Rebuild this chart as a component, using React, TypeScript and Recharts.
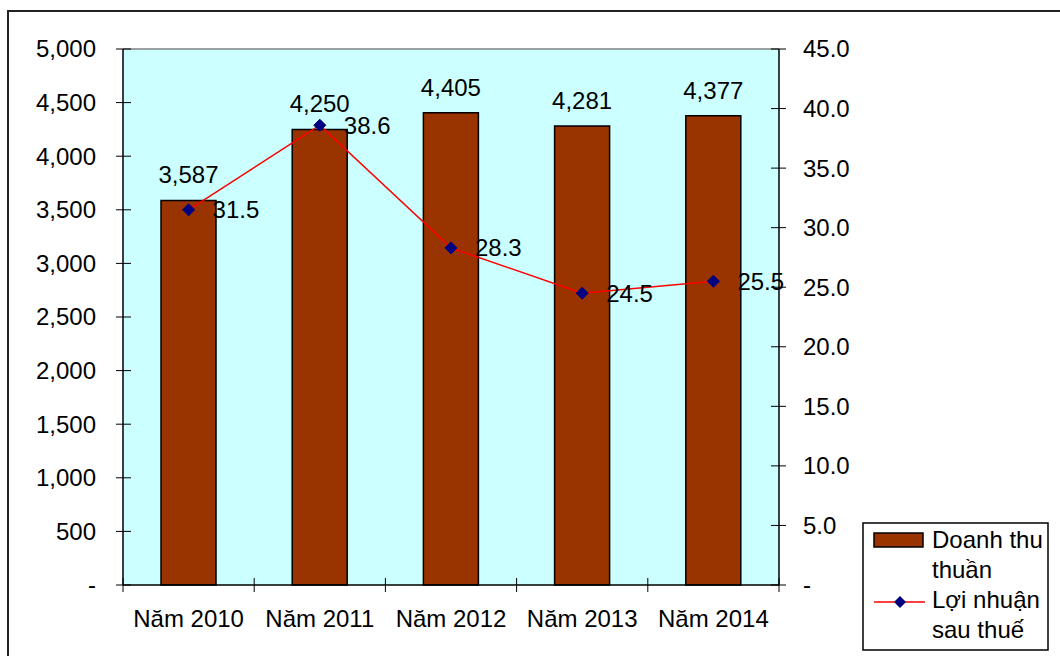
import React from "react";
import {
  ComposedChart,
  Bar,
  Line,
  XAxis,
  YAxis,
  CartesianGrid,
  LabelList,
  Legend,
  ReferenceLine,
} from "recharts";

// revenue (left axis) and after-tax profit (right axis), by year
const years = ["Năm 2010", "Năm 2011", "Năm 2012", "Năm 2013", "Năm 2014"];
const doanhThu = [3587, 4250, 4405, 4281, 4377];
const loiNhuan = [31.5, 38.6, 28.3, 24.5, 25.5];
const leftTicks = [0, 500, 1000, 1500, 2000, 2500, 3000, 3500, 4000, 4500, 5000];
const rightTicks = [0, 5, 10, 15, 20, 25, 30, 35, 40, 45];

const data = years.map((year, i) => ({
  year,
  doanhThu: doanhThu[i],
  loiNhuan: loiNhuan[i],
}));

const FONT = "'Liberation Sans', Arial, sans-serif";
const FS = 24;
const W = 1060;
const H = 656;
const PLOT_LEFT = 123;
const PLOT_RIGHT = 779;
const PLOT_TOP = 49;
const PLOT_BOTTOM = 585;
const BAND = (PLOT_RIGHT - PLOT_LEFT) / years.length;

const LeftTick = (props: any) => {
  const { y, payload } = props;
  const v = payload.value;
  return (
    <g>
      <line x1={PLOT_LEFT - 7} x2={PLOT_LEFT + 8} y1={y} y2={y} stroke="#000" strokeWidth={1} />
      <text x={PLOT_LEFT - 27} y={y} dy="0.35em" textAnchor="end" fontSize={FS} fontFamily={FONT} fill="#000">
        {v === 0 ? "-" : v.toLocaleString("en-US")}
      </text>
    </g>
  );
};

const RightTick = (props: any) => {
  const { y, payload } = props;
  const v = payload.value;
  return (
    <g>
      <line x1={PLOT_RIGHT - 8} x2={PLOT_RIGHT + 7} y1={y} y2={y} stroke="#000" strokeWidth={1} />
      <text x={PLOT_RIGHT + 24} y={y} dy="0.35em" textAnchor="start" fontSize={FS} fontFamily={FONT} fill="#000">
        {v === 0 ? "-" : v.toFixed(1)}
      </text>
    </g>
  );
};

const XTick = (props: any) => {
  const { x, payload, index } = props;
  const left = x - BAND / 2;
  const right = x + BAND / 2;
  return (
    <g>
      <line x1={left} x2={left} y1={PLOT_BOTTOM - 7} y2={PLOT_BOTTOM + 7} stroke="#000" />
      {index === years.length - 1 && (
        <line x1={right} x2={right} y1={PLOT_BOTTOM - 7} y2={PLOT_BOTTOM + 7} stroke="#000" />
      )}
      <text x={x} y={PLOT_BOTTOM + 34} dy="0.35em" textAnchor="middle" fontSize={FS} fontFamily={FONT} fill="#000">
        {payload.value}
      </text>
    </g>
  );
};

const Diamond = (props: any) => {
  const { cx, cy } = props;
  if (cx == null || cy == null) return null;
  const r = 6;
  return (
    <polygon
      points={`${cx},${cy - r} ${cx + r},${cy} ${cx},${cy + r} ${cx - r},${cy}`}
      fill="#000080"
      stroke="#000080"
    />
  );
};

const LegendBox = () => (
  <svg width={187} height={129} style={{ display: "block" }}>
    <rect x={1} y={1} width={185} height={127} fill="#fff" stroke="#000" strokeWidth={1.5} />
    <rect x={12} y={11} width={49} height={14} fill="#993300" stroke="#000" strokeWidth={1.5} />
    <text x={70} y={18} dy="0.35em" fontSize={FS} fontFamily={FONT} fill="#000">Doanh thu</text>
    <text x={70} y={48} dy="0.35em" fontSize={FS} fontFamily={FONT} fill="#000">thuần</text>
    <line x1={12} x2={63} y1={80} y2={80} stroke="#ff0000" strokeWidth={1.5} />
    <polygon points="38,74 44,80 38,86 32,80" fill="#000080" />
    <text x={70} y={78} dy="0.35em" fontSize={FS} fontFamily={FONT} fill="#000">Lợi nhuận</text>
    <text x={70} y={108} dy="0.35em" fontSize={FS} fontFamily={FONT} fill="#000">sau thuế</text>
  </svg>
);

export default function App() {
  return (
    <div
      style={{
        position: "fixed",
        left: 0,
        top: 0,
        width: W,
        height: H,
        overflow: "hidden",
        background: "#fff",
        fontFamily: FONT,
      }}
    >
      <div
        style={{
          position: "absolute",
          left: 7,
          top: 10,
          width: W,
          height: H,
          borderTop: "2px solid #222",
          borderLeft: "2px solid #222",
        }}
      />
      <div style={{ position: "absolute", left: 0, top: 0 }}>
        <ComposedChart
          width={W}
          height={H}
          data={data}
          barSize={55}
          margin={{ top: PLOT_TOP, right: W - PLOT_RIGHT - 100, left: 0, bottom: 0 }}
        >
          <CartesianGrid horizontal={false} vertical={false} fill="#ccffff" yAxisId="left" />
          <XAxis
            dataKey="year"
            height={H - PLOT_BOTTOM}
            axisLine={{ stroke: "#000", strokeWidth: 1.5 }}
            tickLine={false}
            tick={<XTick />}
            interval={0}
          />
          <YAxis
            yAxisId="left"
            width={PLOT_LEFT}
            domain={[0, 5000]}
            ticks={leftTicks}
            interval={0}
            axisLine={{ stroke: "#000", strokeWidth: 1.5 }}
            tickLine={false}
            tickSize={0}
            tick={<LeftTick />}
          />
          <YAxis
            yAxisId="right"
            orientation="right"
            width={100}
            domain={[0, 45]}
            ticks={rightTicks}
            interval={0}
            axisLine={{ stroke: "#000", strokeWidth: 1.5 }}
            tickLine={false}
            tickSize={0}
            tick={<RightTick />}
          />
          <ReferenceLine yAxisId="left" y={5000} stroke="#808080" strokeWidth={1.5} />
          <Bar
            yAxisId="left"
            dataKey="doanhThu"
            fill="#993300"
            stroke="#000"
            strokeWidth={1.5}
            isAnimationActive={false}
          >
            <LabelList
              dataKey="doanhThu"
              position="top"
              offset={17}
              fill="#000"
              fontSize={FS}
              fontFamily={FONT}
              formatter={(v: any) => Number(v).toLocaleString("en-US")}
            />
          </Bar>
          <Line
            yAxisId="right"
            dataKey="loiNhuan"
            type="linear"
            stroke="#ff0000"
            strokeWidth={1.5}
            dot={<Diamond />}
            activeDot={false}
            isAnimationActive={false}
          >
            <LabelList
              dataKey="loiNhuan"
              position="right"
              offset={24}
              fill="#000"
              fontSize={FS}
              fontFamily={FONT}
              formatter={(v: any) => Number(v).toFixed(1)}
            />
          </Line>
          <Legend
            layout="vertical"
            align="center"
            verticalAlign="middle"
            wrapperStyle={{ position: "absolute", left: 862, top: 522, width: 187, height: 129 }}
            content={() => <LegendBox />}
          />
        </ComposedChart>
      </div>
    </div>
  );
}
